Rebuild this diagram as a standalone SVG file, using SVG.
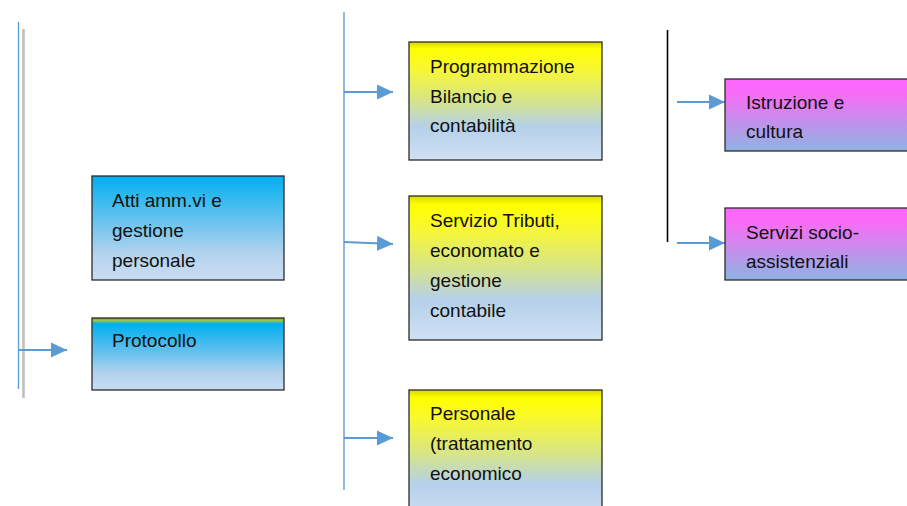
<svg xmlns="http://www.w3.org/2000/svg" width="907" height="506" viewBox="0 0 907 506">
<style>
.box{stroke:#2b2b2b;stroke-width:1.3}
.t{font-family:"Liberation Sans",Arial,sans-serif;font-size:19px;fill:#111}
.arr{stroke:#5B9BD5;stroke-width:2;fill:none}
</style>
<defs>
<linearGradient id="gy" x1="0" y1="0" x2="0" y2="1">
<stop offset="0" stop-color="#D8D800"/>
<stop offset="0.06" stop-color="#FFFF00"/>
<stop offset="0.22" stop-color="#F8F830"/>
<stop offset="0.5" stop-color="#D6E48A"/>
<stop offset="0.72" stop-color="#B5D0EA"/>
<stop offset="1" stop-color="#D0E0F3"/>
</linearGradient>
<linearGradient id="gb" x1="0" y1="0" x2="0" y2="1">
<stop offset="0" stop-color="#00B0F0"/>
<stop offset="0.45" stop-color="#6CC4EE"/>
<stop offset="0.75" stop-color="#B3D3EE"/>
<stop offset="1" stop-color="#CADDF2"/>
</linearGradient>
<linearGradient id="gp" x1="0" y1="0" x2="0" y2="1">
<stop offset="0" stop-color="#7A8A1A"/>
<stop offset="0.03" stop-color="#A6C83A"/>
<stop offset="0.08" stop-color="#00B0F0"/>
<stop offset="0.45" stop-color="#5EBFEE"/>
<stop offset="0.75" stop-color="#B0D1EE"/>
<stop offset="1" stop-color="#C8DCF2"/>
</linearGradient>
<linearGradient id="gm" x1="0" y1="0" x2="0" y2="1">
<stop offset="0" stop-color="#FF66FF"/>
<stop offset="0.2" stop-color="#F86CF6"/>
<stop offset="1" stop-color="#8DB4E2"/>
</linearGradient>
<marker id="ah" markerWidth="16" markerHeight="16" viewBox="0 0 16 16" refX="16" refY="8" orient="auto" markerUnits="userSpaceOnUse">
<path d="M0,0.5 L16,8 L0,15.5 Z" fill="#5B9BD5"/>
</marker>
</defs>

<g id="connectors">
<line x1="18.5" y1="22" x2="18.5" y2="389" stroke="#5B9BD5" stroke-width="1.3"/>
<line x1="23.5" y1="29" x2="23.5" y2="398" stroke="#BFBFBF" stroke-width="2.6"/>
<line class="arr" x1="19" y1="350" x2="67" y2="350" marker-end="url(#ah)"/>
<line x1="344" y1="12" x2="344" y2="490" stroke="#73A6DC" stroke-width="1.6"/>
<line class="arr" x1="344" y1="92" x2="393" y2="92" marker-end="url(#ah)"/>
<line class="arr" x1="344" y1="242" x2="393" y2="244" marker-end="url(#ah)"/>
<line class="arr" x1="344" y1="438" x2="393" y2="438" marker-end="url(#ah)"/>
<line x1="667.5" y1="30" x2="667.5" y2="242" stroke="#000" stroke-width="1.6"/>
<line class="arr" x1="677" y1="102" x2="725" y2="102" marker-end="url(#ah)"/>
<line class="arr" x1="677" y1="243" x2="725" y2="243" marker-end="url(#ah)"/>
</g>

<g id="atti">
<rect class="box" x="92" y="176" width="192" height="104" fill="url(#gb)"/>
<text class="t" x="112" y="207">Atti amm.vi e</text>
<text class="t" x="112" y="237">gestione</text>
<text class="t" x="112" y="267">personale</text>
</g>

<g id="protocollo">
<rect class="box" x="92" y="318" width="192" height="72" fill="url(#gp)"/>
<text class="t" x="112" y="347">Protocollo</text>
</g>

<g id="programmazione">
<rect class="box" x="409" y="42" width="193" height="118" fill="url(#gy)"/>
<text class="t" x="430" y="73">Programmazione</text>
<text class="t" x="430" y="103">Bilancio e</text>
<text class="t" x="430" y="132">contabilità</text>
</g>

<g id="tributi">
<rect class="box" x="409" y="196" width="193" height="144" fill="url(#gy)"/>
<text class="t" x="430" y="227">Servizio Tributi,</text>
<text class="t" x="430" y="257">economato e</text>
<text class="t" x="430" y="287">gestione</text>
<text class="t" x="430" y="317">contabile</text>
</g>

<g id="personale">
<rect class="box" x="409" y="390" width="193" height="130" fill="url(#gy)"/>
<text class="t" x="430" y="420">Personale</text>
<text class="t" x="430" y="450">(trattamento</text>
<text class="t" x="430" y="480">economico</text>
</g>

<g id="istruzione">
<rect class="box" x="725" y="79" width="190" height="72" fill="url(#gm)"/>
<text class="t" x="746" y="109">Istruzione e</text>
<text class="t" x="746" y="138">cultura</text>
</g>

<g id="servizi">
<rect class="box" x="725" y="208" width="190" height="72" fill="url(#gm)"/>
<text class="t" x="746" y="239">Servizi socio-</text>
<text class="t" x="746" y="268">assistenziali</text>
</g>
</svg>
